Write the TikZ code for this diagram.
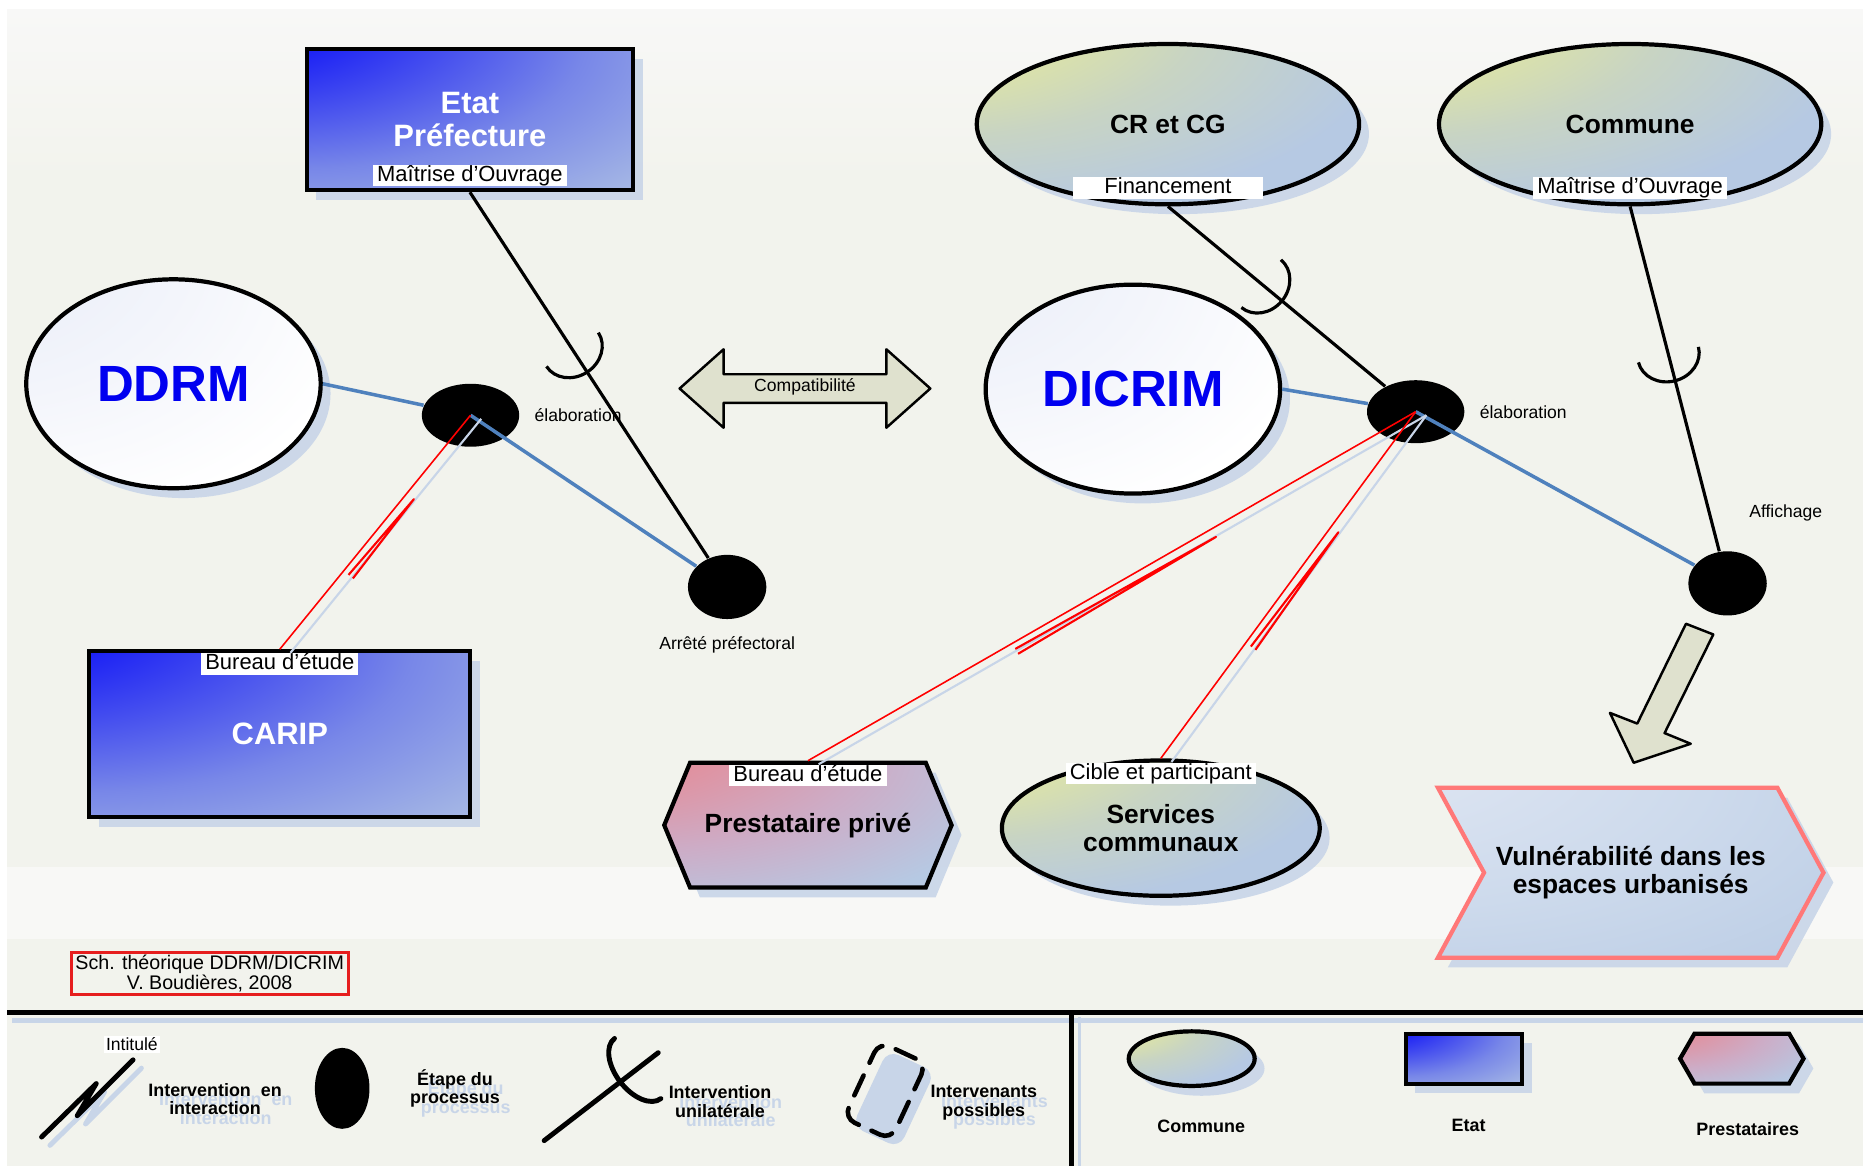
\documentclass[tikz,border=0pt]{standalone}
\usepackage{fontspec}
\setmainfont{Liberation Sans}
\usetikzlibrary{positioning,shapes.geometric,shapes.symbols,shadows,decorations.markings}

\definecolor{bgcol}{RGB}{242,243,237}
\definecolor{bgtop}{RGB}{248,248,247}
\definecolor{bgband}{RGB}{248,248,246}
\definecolor{shadowblue}{RGB}{200,213,232}
\definecolor{linkblue}{RGB}{79,129,189}
\definecolor{arrowfill}{RGB}{223,225,206}
\definecolor{titleblue}{RGB}{0,0,240}
\definecolor{chevronred}{RGB}{255,120,120}
\definecolor{creditred}{RGB}{230,30,30}
\definecolor{etatA}{RGB}{0,0,255}
\definecolor{etatB}{RGB}{25,30,245}
\definecolor{etatC}{RGB}{120,135,232}
\definecolor{lightsteel}{RGB}{182,201,227}
\definecolor{yellA}{RGB}{242,243,138}
\definecolor{yellB}{RGB}{234,237,150}
\definecolor{yellC}{RGB}{200,212,195}
\definecolor{pinkA}{RGB}{232,128,138}
\definecolor{pinkB}{RGB}{228,140,152}
\definecolor{pinkC}{RGB}{205,172,198}
\definecolor{whiteA}{RGB}{225,230,246}
\definecolor{whiteB}{RGB}{243,245,251}
\definecolor{vulnA}{RGB}{232,236,246}
\definecolor{vulnB}{RGB}{205,218,236}

\pgfdeclareradialshading{etatshade}{\pgfpoint{-50bp}{50bp}}{color(0bp)=(etatA); color(20bp)=(etatB); color(45bp)=(etatC); color(68bp)=(lightsteel); color(100bp)=(lightsteel)}
\pgfdeclareradialshading{communeshade}{\pgfpoint{-50bp}{50bp}}{color(0bp)=(yellA); color(18bp)=(yellB); color(36bp)=(yellC); color(52bp)=(lightsteel); color(100bp)=(lightsteel)}
\pgfdeclareradialshading{prestshade}{\pgfpoint{-50bp}{50bp}}{color(0bp)=(pinkA); color(20bp)=(pinkB); color(40bp)=(pinkC); color(58bp)=(lightsteel); color(100bp)=(lightsteel)}
\pgfdeclareradialshading{whiteshade}{\pgfpoint{-50bp}{50bp}}{color(0bp)=(whiteA); color(35bp)=(whiteB); color(55bp)=(white); color(100bp)=(white)}
\pgfdeclareradialshading{vulnshade}{\pgfpoint{-50bp}{50bp}}{color(0bp)=(vulnA); color(40bp)=(vulnB); color(70bp)=(lightsteel); color(100bp)=(lightsteel)}

\tikzset{
  nodeborder/.style={draw=black, line width=1.2pt},
  dropblue/.style={drop shadow={shadow xshift=2.8pt, shadow yshift=-2.8pt, fill=shadowblue, opacity=0.9}},
  etatbox/.style={rectangle, nodeborder, dropblue, shade, shading=etatshade, minimum width=3.267cm, minimum height=1.414cm, text=white, align=center, font=\fontsize{8.8}{9.4}\selectfont\bfseries},
  titlecircle/.style={ellipse, nodeborder, dropblue, shade, shading=whiteshade, minimum width=2.946cm, minimum height=2.09cm, text=titleblue, font=\fontsize{14.5}{16}\selectfont\bfseries},
  communeell/.style={ellipse, nodeborder, dropblue, shade, shading=communeshade, minimum width=3.825cm, minimum height=1.604cm, align=center, font=\fontsize{7.5}{8.1}\selectfont\bfseries},
  prestahex/.style={signal, signal to=west and east, signal pointer angle=135, nodeborder, dropblue, shade, shading=prestshade, minimum width=2.875cm, minimum height=1.247cm, font=\fontsize{7.5}{8.1}\selectfont\bfseries},
  vulnchevron/.style={signal, signal from=west, signal to=east, signal pointer angle=123, draw=chevronred, line width=1.2pt, dropblue, shade, shading=vulnshade, minimum width=3.81cm, minimum height=1.7cm, align=center, font=\fontsize{7.5}{8.1}\selectfont\bfseries},
  stepdot/.style={ellipse, fill=black, minimum width=0.784cm, minimum height=0.642cm, inner sep=0pt},
  whitetag/.style={fill=white, inner xsep=1.2pt, inner ysep=0pt, text height=4.7pt, text depth=1.4pt, font=\fontsize{6.25}{7}\selectfont},
  smalltxt/.style={inner sep=0.5pt, font=\fontsize{5}{6}\selectfont},
  legendtxt/.style={align=center, inner sep=0.5pt, font=\fontsize{5.1}{5.3}\selectfont\bfseries},
  ghosttxt/.style={legendtxt, text=shadowblue},
  credit/.style={draw=creditred, line width=0.8pt, minimum width=2.77cm, minimum height=0.416cm, inner sep=0.5pt, align=center, font=\fontsize{5.6}{5.6}\selectfont},
  blueline/.style={draw=linkblue, line width=1pt},
  blackline/.style={draw=black, line width=0.9pt},
  redline/.style={draw=red, line width=0.45pt},
  shadowline/.style={draw=shadowblue, line width=0.6pt},
  legendline/.style={line width=1.4pt, line cap=round, line join=round},
  compatarrow/.style={draw=black, line width=0.7pt, fill=arrowfill, line join=round},
  possible/.style={rectangle, rounded corners=0.12cm, rotate=-25, minimum width=0.52cm, minimum height=0.84cm, inner sep=0pt},
  socket/.style={postaction={decorate}, decoration={markings, mark=at position #1 with {\draw[line width=0.9pt] (0cm,0.31cm) arc[start angle=90, end angle=-90, x radius=0.27cm, y radius=0.31cm];}}},
  socket/.default=0.43,
  legsocket/.style={postaction={decorate}, decoration={markings, mark=at position 0.18 with {\draw[line width=1.4pt] (0cm,0.38cm) arc[start angle=90, end angle=-90, x radius=0.22cm, y radius=0.38cm];}}},
  interact/.style={postaction={decorate}, decoration={markings, mark=at position 0.5 with {\draw[red, line width=0.6pt, line join=round] (#1,1.8pt) -- (-#1,2.6pt) -- (#1,3.4pt);}}}
}

\begin{document}
\begin{tikzpicture}[x=0.01188cm, y=-0.01188cm]
\useasboundingbox (0,0) rectangle (1568,981);
\fill[white] (0,0) rectangle (1568,981);
\fill[bgcol] (6,8) rectangle (1568,981);
\shade[top color=bgtop, bottom color=bgcol] (6,8) rectangle (1568,150);
\fill[bgband] (6,730) rectangle (1568,790);

\node[etatbox] (etat) at (395.5,100.5) {Etat\\Préfecture};
\node[whitetag, above=1.5pt of etat.south] (etattag) {Maîtrise d'Ouvrage};
\node[titlecircle] (ddrm) at (146,323) {DDRM};
\node[stepdot, minimum width=0.974cm, minimum height=0.63cm] (elab1) at (396,349.5) {};
\node[smalltxt, right=3.5pt of elab1] (elab1txt) {élaboration};
\node[stepdot] (arrete) at (612,494) {};
\node[smalltxt, below=4pt of arrete] (arretetxt) {Arrêté préfectoral};
\node[etatbox, minimum width=3.81cm, minimum height=1.66cm] (carip) at (235.5,618) {CARIP};
\node[whitetag, below=1pt of carip.north] (cariptag) {Bureau d'étude};

\path[compatarrow] (572,327) -- (609,294) -- (609,315) -- (746,315) -- (746,294) -- (783,327) -- (746,360) -- (746,339) -- (609,339) -- (609,360) -- cycle;
\node[smalltxt] (compat) at (677.5,326) {Compatibilité};

\node[communeell] (crcg) at (983,104.5) {CR et CG};
\node[whitetag, inner xsep=9pt, above=2pt of crcg.south] (crcgtag) {Financement};
\node[communeell] (commune) at (1372,104.5) {Commune};
\node[whitetag, above=2pt of commune.south] (communetag) {Maîtrise d'Ouvrage};
\node[titlecircle] (dicrim) at (953.5,327.5) {DICRIM};
\node[stepdot, minimum width=0.974cm, minimum height=0.63cm] (elab2) at (1191.5,346.5) {};
\node[smalltxt, right=3.5pt of elab2] (elab2txt) {élaboration};
\node[stepdot] (affich) at (1454,491) {};
\node[smalltxt] (affichtxt) at (1503,432) {Affichage};

\node[prestahex] (prest) at (680,694.5) {Prestataire privé};
\node[whitetag, below=1pt of prest.north] (presttag) {Bureau d'étude};
\node[communeell, minimum width=3.18cm, minimum height=1.354cm] (services) at (977,697) {Services\\communaux};
\node[whitetag, below=1pt of services.north] (servicestag) {Cible et participant};
\node[vulnchevron] (vuln) at (1372.5,734.5) {Vulnérabilité dans les\\espaces urbanisés};
\path[compatarrow] (1419,525) -- (1442,534) -- (1401,617) -- (1423,626) -- (1375,642) -- (1355,600) -- (1378,609) -- cycle;

\node[credit] (credit) at (176.5,819.5) {Sch. théorique DDRM/DICRIM\\V. Boudières, 2008};

\path [-, blueline] (ddrm.east) edge (elab1);
\path [-, blueline] (elab1.center) edge (arrete);
\path [-, blackline] (etat.south) edge [socket] (arrete);
\path [-, shadowline] ([shift={(9,3)}]elab1.center) edge ([shift={(9,3)}]carip.north);
\path [-, redline] (elab1.center) edge [interact=0.5cm] (carip.north);

\path [-, blueline] (dicrim.east) edge (elab2);
\path [-, blueline] (elab2.center) edge (affich);
\path [-, blackline] (crcg.south) edge [socket] (elab2);
\path [-, blackline] (commune.south) edge [socket] (affich);
\path [-, shadowline] ([shift={(9,3)}]elab2.center) edge ([shift={(9,3)}]prest.north);
\path [-, shadowline] ([shift={(9,3)}]elab2.center) edge ([shift={(9,3)}]services.north);
\path [-, redline] (elab2.center) edge [interact=1.15cm] (prest.north);
\path [-, redline] (elab2.center) edge [interact=0.72cm] (services.north);

\fill[shadowblue] (10,857) rectangle (1568,861);
\draw[line width=1.5pt] (6,852) -- (1568,852);
\fill[shadowblue] (907,856) rectangle (910,981);
\draw[line width=1.5pt] (902,852) -- (902,981);

\node[smalltxt, fill=white] (intitule) at (111,879) {Intitulé};
\draw[legendline, shadowblue] (42,964) -- (88,919) -- (72,946) -- (119,899);
\draw[legendline] (35,957) -- (81,912) -- (65,939) -- (112,892);
\node[ghosttxt] (interghost) at (190,933) {Intervention\ \ en\\interaction};
\node[legendtxt] (inter) at (181,925) {Intervention\ \ en\\interaction};
\node[stepdot, minimum width=0.546cm, minimum height=0.81cm] (legstep) at (288,916) {};
\node[ghosttxt] (stepghost) at (392,924) {Étape du\\processus};
\node[legendtxt] (steptxt) at (383,916) {Étape du\\processus};
\coordinate (unia) at (554,886);
\coordinate (unib) at (458,960);
\path [-, legendline, draw=black] (unia) edge [legsocket] (unib);
\node[ghosttxt] (unighost) at (615,935) {Intervention\\unilatérale};
\node[legendtxt] (unitxt) at (606,927) {Intervention\\unilatérale};
\node[possible, fill=shadowblue] (possshade) at (752,925) {};
\node[possible, draw=black, line width=1.3pt, line cap=round, dash pattern=on 0.22cm off 0.14cm] (poss) at (745,918) {};
\node[ghosttxt] (possghost) at (837,936) {Intervenants\\possibles};
\node[legendtxt] (posstxt) at (828,928) {Intervenants\\possibles};

\node[communeell, minimum width=1.26cm, minimum height=0.546cm] (legcommune) at (1003,891) {};
\node[legendtxt] (legcommunetxt) at (1011,948) {Commune};
\node[etatbox, minimum width=1.164cm, minimum height=0.5cm] (legetat) at (1232,891) {};
\node[legendtxt] (legetattxt) at (1236,947) {Etat};
\node[prestahex, minimum width=1.235cm, minimum height=0.5cm, signal pointer angle=120] (legprest) at (1466,891) {};
\node[legendtxt] (legpresttxt) at (1471,950) {Prestataires};
\end{tikzpicture}
\end{document}
